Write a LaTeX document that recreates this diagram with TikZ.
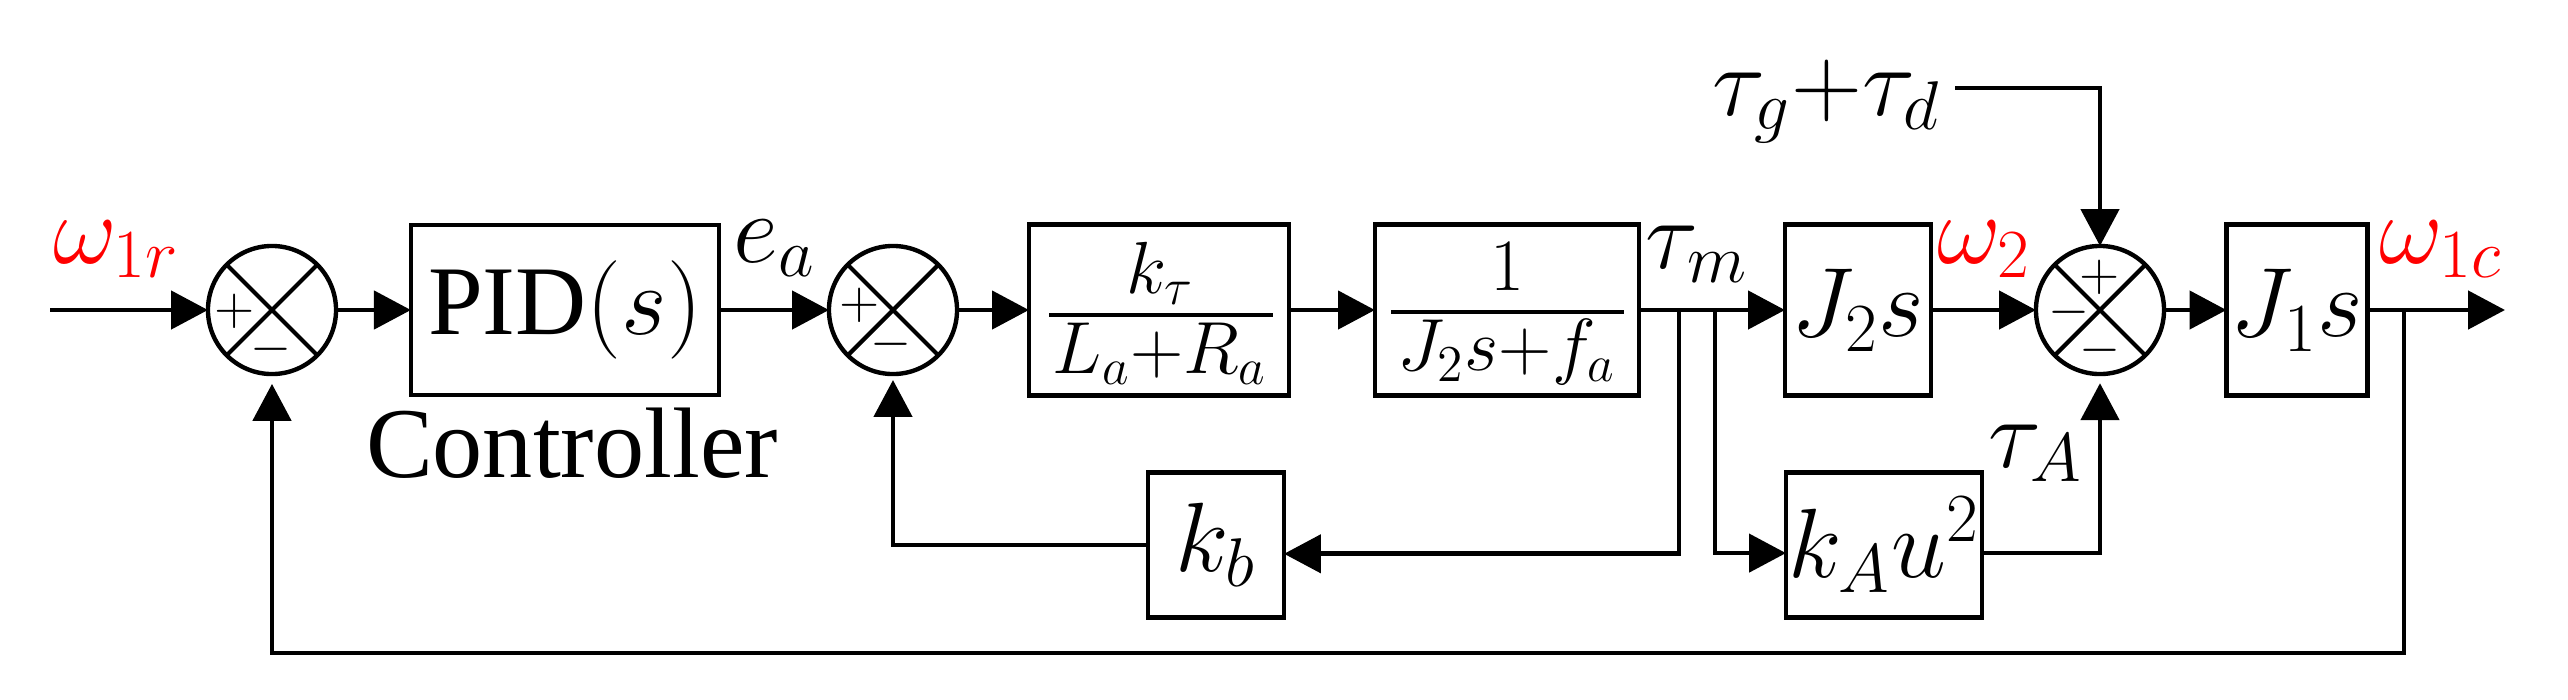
\documentclass[tikz,border=0pt]{standalone}
\usepackage{fix-cm}
\usepackage{fontspec}
\setmainfont{Liberation Serif}
\usetikzlibrary{arrows.meta}
\tikzset{
  blk/.style={draw, line width=1.25pt, inner sep=0pt, outer sep=0pt, font=\fontsize{28}{34}\selectfont},
  sumj/.style={draw, circle, line width=1.25pt, minimum size=1.28cm, inner sep=0pt, outer sep=0pt},
  lbl/.style={inner sep=0pt, anchor=base west, font=\fontsize{28}{34}\selectfont},
  frc/.style={inner sep=0pt, anchor=base, font=\fontsize{21}{25}\selectfont},
  sig/.style={inner sep=0pt, font=\fontsize{15}{18}\selectfont},
  wire/.style={line width=1.35pt},
  arr/.style={wire, -{Triangle[length=10.5pt,width=10.8pt]}},
  fline/.style={line width=1.2pt},
}
\begin{document}
\begin{tikzpicture}[x=0.01cm,y=-0.01cm]
\useasboundingbox (0,0) rectangle (2568,699);

% summing junctions
\node[sumj] (s1) at (272,310) {};
\node[sumj] (s2) at (893,310) {};
\node[sumj] (s3) at (2100,310) {};
\foreach \s in {s1,s2,s3}{
  \draw[line width=1.2pt] (\s.45) -- (\s.225) (\s.135) -- (\s.315);
}
\node[sig] (s1p) at (235,311) {$+$};
\node[sig] (s1m) at (271,349) {$-$};
\node[sig] (s2p) at (860,305) {$+$};
\node[sig] (s2m) at (891,344) {$-$};
\node[sig] (s3p) at (2100,277) {$+$};
\node[sig] (s3l) at (2069,312) {$-$};
\node[sig] (s3m) at (2100,350) {$-$};

% blocks
\node[blk, minimum width=3.08cm, minimum height=1.70cm] (pid) at (565,310) {PID$(s)$};
\node[blk, minimum width=2.60cm, minimum height=1.71cm] (kt) at (1159,310) {};
\node[frc] (ktn) at (1160,293) {$k_\tau$};
\node[frc] (ktd) at (1160,373) {$L_a{+}R_a$};
\draw[fline] (1049,315) -- (1273,315);
\node[blk, minimum width=2.64cm, minimum height=1.71cm] (g2) at (1507,310) {};
\node[frc] (g2n) at (1507,290) {$1$};
\node[frc] (g2d) at (1507,370) {$J_2s{+}f_a$};
\draw[fline] (1391,312) -- (1624,312);
\node[blk, minimum width=1.46cm, minimum height=1.71cm] (j2) at (1858,310) {$J_2s$};
\node[blk, minimum width=1.41cm, minimum height=1.71cm] (j1) at (2297,310) {$J_1s$};
\node[blk, minimum width=1.36cm, minimum height=1.45cm] (kb) at (1216,545) {\raisebox{-3pt}{$k_b$}};
\node[blk, minimum width=1.96cm, minimum height=1.45cm] (ka) at (1884,545) {\raisebox{-3pt}{$k_Au^2$}};

% labels
\node[lbl, text=red] (w1r) at (53,263) {$\omega_{1r}$};
\node[lbl] (ea) at (733,262) {$e_a$};
\node[lbl] (tm) at (1645,268) {$\tau_m$};
\node[lbl, text=red] (w2) at (1937,263) {$\omega_2$};
\node[lbl, text=red] (w1c) at (2379,263) {$\omega_{1c}$};
\node[lbl] (tgd) at (1712,115) {$\tau_g{+}\tau_d$};
\node[lbl] (tA) at (1988,467) {$\tau_A$};
\node[inner sep=0pt, anchor=base, font=\fontsize{28.5}{34}\selectfont] (ctrl) at (572,477) {Controller};

% coordinates
\coordinate (in) at (50,310);
\coordinate (out) at (2505,310);
\coordinate (b1) at (1679,310);
\coordinate (b2) at (1715,310);
\coordinate (b3) at (2404,310);
\coordinate (fbc) at (2404,653);
\coordinate (dist) at (1955,88);

% wires
\draw[arr] (in) -- (s1.west);
\draw[arr] (s1.east) -- (pid.west);
\draw[arr] (pid.east) -- (s2.west);
\draw[arr] (s2.east) -- (kt.west);
\draw[arr] (kt.east) -- (g2.west);
\draw[arr] (g2.east) -- (j2.west);
\draw[arr] (j2.east) -- (s3.west);
\draw[arr] (s3.east) -- (j1.west);
\draw[arr] (j1.east) -- (out);
\draw[arr] (b1) |- ([yshift=-2.5pt]kb.east);
\draw[arr, shorten >=1.7pt] (kb.west) -| (s2.south);
\draw[arr] (b2) |- ([yshift=-2.3pt]ka.west);
\draw[arr, shorten >=2.6pt] ([yshift=-2.3pt]ka.east) -| (s3.south);
\draw[arr] (dist) -| (s3.north);
\draw[arr, shorten >=2.8pt] (b3) -- (fbc) -| (s1.south);
\end{tikzpicture}
\end{document}
